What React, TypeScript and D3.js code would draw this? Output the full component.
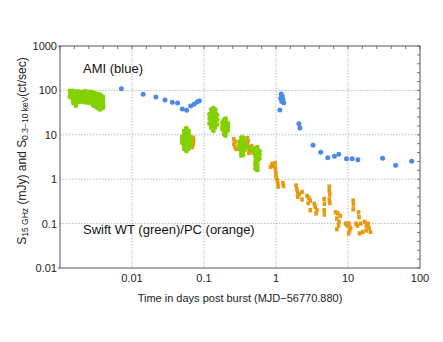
import React from "react";
import * as d3 from "d3";

// AMI 15 GHz (blue): [days, mJy]
const amiData: [number, number][] = [
  [0.0071, 109], [0.0143, 81.7], [0.0215, 71], [0.0287, 60.8], [0.0363, 53.9], [0.043, 52],
  [0.05, 38.1], [0.0574, 35.6], [0.0653, 44.6], [0.0728, 48.6], [0.0802, 54.8], [0.0863, 58.6],
  [1.13, 36.2], [1.16, 66.4], [1.18, 83], [1.2, 56], [1.22, 75], [1.25, 62], [1.28, 53],
  [2.08, 17.8], [2.15, 14.2], [3.27, 5.8], [4.18, 4.03], [5.23, 3.05], [6.49, 3.27], [7.45, 3.63],
  [9.53, 2.9], [11.4, 2.9], [13.7, 2.75], [30.2, 2.96], [45.9, 2.06], [76.6, 2.53],
];

// Swift XRT WT (green): [days, ct/s]
const wtEarly: [number, number][] = [
  [0.00138, 97], [0.00139, 84], [0.00137, 72],
  [0.00151, 98], [0.00152, 85], [0.00153, 70], [0.00151, 61], [0.00153, 52],
  [0.00166, 95], [0.00168, 82], [0.00167, 72], [0.00166, 60], [0.00168, 51], [0.00166, 45],
  [0.00175, 90], [0.00176, 77], [0.00174, 66], [0.00175, 57],
  [0.00184, 94], [0.00185, 84], [0.00183, 70], [0.00184, 62], [0.00186, 55],
  [0.00193, 88], [0.00194, 76], [0.00193, 66], [0.00194, 58],
  [0.00203, 92], [0.00204, 82], [0.00202, 71], [0.00203, 61], [0.00205, 56],
  [0.00213, 88], [0.00214, 76], [0.00212, 66], [0.00213, 58],
  [0.00223, 96], [0.00224, 84], [0.00222, 70], [0.00224, 61], [0.00223, 54],
  [0.00235, 88], [0.00234, 76], [0.00236, 65], [0.00235, 57],
  [0.00245, 93], [0.00246, 82], [0.00244, 72], [0.00246, 60], [0.00245, 53],
  [0.00258, 88], [0.00257, 76], [0.00259, 66], [0.00258, 56],
  [0.0027, 92], [0.00271, 84], [0.0027, 70], [0.00269, 62], [0.00271, 52],
  [0.00284, 85], [0.00283, 73], [0.00285, 64], [0.00284, 55], [0.00283, 48],
  [0.00297, 88], [0.00298, 78], [0.00296, 67], [0.00298, 58], [0.00297, 50], [0.00296, 45],
  [0.00312, 80], [0.00313, 69], [0.00311, 60], [0.00312, 51], [0.00313, 44],
  [0.00328, 83], [0.00327, 72], [0.00329, 61], [0.00328, 52], [0.00327, 45], [0.00329, 40],
  [0.00344, 76], [0.00345, 65], [0.00343, 56], [0.00344, 48], [0.00345, 41],
  [0.0036, 80], [0.00361, 68], [0.00359, 58], [0.0036, 50], [0.00362, 43], [0.0036, 37],
  [0.00378, 74], [0.00377, 64], [0.00379, 55], [0.00378, 47], [0.00377, 40],
  [0.00395, 71], [0.00397, 61], [0.00396, 52], [0.00398, 45], [0.00396, 40],
];
const wtOrbit1: [number, number][] = [
  [0.0497, 9.0], [0.0499, 7.6], [0.0498, 6.6],
  [0.053, 12.2], [0.0531, 10.4], [0.0529, 9.0], [0.053, 7.6], [0.0531, 6.6], [0.053, 5.6], [0.0529, 4.8],
  [0.0569, 14.2], [0.057, 12.2], [0.0568, 10.4], [0.0569, 9.0], [0.057, 7.6], [0.0568, 6.6], [0.0569, 5.6], [0.057, 4.8], [0.0569, 4.3],
  [0.061, 12.2], [0.0611, 10.4], [0.0609, 9.0], [0.061, 7.6], [0.0611, 6.6], [0.061, 5.6], [0.0609, 4.8],
  [0.065, 9.0], [0.0651, 7.6], [0.0649, 6.6], [0.065, 5.6],
];
const wtOrbit2: [number, number][] = [
  [0.119, 29], [0.12, 23], [0.119, 18],
  [0.126, 37], [0.127, 31], [0.126, 27], [0.125, 23], [0.126, 20], [0.127, 17], [0.126, 14.5],
  [0.134, 40], [0.135, 34], [0.133, 29], [0.134, 25], [0.135, 21.6], [0.134, 18.4], [0.133, 15.8], [0.134, 13.6], [0.135, 12.2],
  [0.143, 37], [0.144, 31], [0.142, 27], [0.143, 23], [0.144, 20], [0.143, 17], [0.142, 14.5],
  [0.152, 28], [0.153, 22], [0.152, 17],
];
const wtOrbit3: [number, number][] = [
  [0.18, 19], [0.181, 16], [0.18, 13.5],
  [0.19, 22], [0.191, 19], [0.189, 16.3], [0.19, 14], [0.191, 12], [0.19, 10.3],
  [0.2, 23], [0.201, 20], [0.199, 17], [0.2, 14.6], [0.201, 12.5], [0.2, 10.8], [0.199, 9.5],
  [0.214, 18], [0.215, 15], [0.214, 12.5],
];
const wtOrbit4: [number, number][] = [
  [0.31, 7.0], [0.31, 5.8], [0.311, 4.8],
  [0.33, 8.6], [0.331, 7.3], [0.329, 6.2], [0.33, 5.3], [0.331, 4.5], [0.33, 3.9], [0.329, 3.4],
  [0.35, 8.6], [0.351, 7.3], [0.349, 6.2], [0.35, 5.3], [0.351, 4.5], [0.35, 3.9], [0.349, 3.5],
  [0.37, 7.0], [0.371, 5.8], [0.37, 4.6],
  [0.4, 5.2], [0.44, 5.0],
  [0.49, 4.6], [0.491, 3.9],
  [0.52, 5.0], [0.521, 4.3], [0.519, 3.7], [0.52, 3.2], [0.521, 2.7], [0.52, 2.3], [0.519, 2.0], [0.52, 1.7],
  [0.55, 5.3], [0.551, 4.6], [0.549, 3.9], [0.55, 3.3], [0.551, 2.8], [0.55, 2.4], [0.549, 2.1], [0.55, 1.8], [0.551, 1.6],
  [0.59, 4.3], [0.591, 3.6], [0.589, 2.9],
];

// Swift XRT PC (orange): [days, ct/s]
const pcData: [number, number][] = [
  [0.071, 8.5], [0.072, 7.3], [0.071, 6.2], [0.069, 5.3],
  [0.26, 8.0], [0.27, 7.0], [0.26, 6.1], [0.27, 5.3], [0.28, 4.8],
  [0.4, 8.4], [0.41, 7.2], [0.4, 6.2], [0.42, 5.2], [0.43, 4.4], [0.42, 3.9],
  [0.46, 5.6], [0.47, 4.6], [0.48, 4.0],
  [0.84, 1.9], [0.88, 2.2], [0.93, 2.0], [0.97, 2.3], [0.98, 1.8], [0.99, 1.5], [1.0, 1.25], [1.01, 1.08],
  [1.04, 0.95], [1.06, 0.8], [1.07, 0.68],
  [1.25, 0.82], [1.27, 0.7],
  [1.9, 0.72], [1.95, 0.6], [2.0, 0.5], [2.1, 0.46], [2.0, 0.4], [2.3, 0.52], [2.3, 0.35],
  [2.7, 0.42], [2.85, 0.38], [3.0, 0.33], [2.8, 0.29], [3.0, 0.2],
  [3.4, 0.28], [3.5, 0.24], [3.7, 0.2], [3.6, 0.17],
  [4.66, 0.36], [4.7, 0.28], [4.66, 0.2], [4.7, 0.16],
  [5.5, 0.68], [5.5, 0.55], [5.6, 0.45], [5.5, 0.35], [5.6, 0.29],
  [6.7, 0.18], [7.2, 0.17], [7.8, 0.15], [7.0, 0.13], [7.5, 0.11], [7.4, 0.09], [7.0, 0.075],
  [9.3, 0.1], [9.8, 0.09], [10.3, 0.1], [10.9, 0.08], [10.5, 0.07], [10.2, 0.06],
  [11.8, 0.33], [11.9, 0.27], [11.8, 0.21],
  [14.0, 0.18], [14.2, 0.14],
  [12.9, 0.1], [13.5, 0.09], [15, 0.1], [17, 0.11], [18, 0.09], [19, 0.1], [19.5, 0.08],
  [18, 0.07], [16, 0.065], [14.5, 0.06], [20.5, 0.065],
];

const xTicks = [0.01, 0.1, 1, 10, 100];
const xTickLabels = ["0.01", "0.1", "1", "10", "100"];
const yTicks = [0.01, 0.1, 1, 10, 100, 1000];
const yTickLabels = ["0.01", "0.1", "1", "10", "100", "1000"];
const xDomain: [number, number] = [0.001, 100];
const yDomain: [number, number] = [0.01, 1000];

const W = 443, H = 342;
const M = { left: 60, right: 420, top: 46, bottom: 268 };
const BLUE = "#4d8ae6";
const GREEN = "#84d000";
const ORANGE = "#e69a10";
const FONT = "Liberation Sans, Arial, sans-serif";

export default function App() {
  const x = d3.scaleLog().domain(xDomain).range([M.left, M.right]);
  const y = d3.scaleLog().domain(yDomain).range([M.bottom, M.top]);
  const wtAll = [...wtEarly, ...wtOrbit1, ...wtOrbit2, ...wtOrbit3, ...wtOrbit4];

  // frame ticks every 0.2 decade
  const lx = d3.range(Math.log10(xDomain[0]), Math.log10(xDomain[1]) + 1e-9, 0.2).map((v) => Math.pow(10, v));
  const ly = d3.range(Math.log10(yDomain[0]), Math.log10(yDomain[1]) + 1e-9, 0.2).map((v) => Math.pow(10, v));

  return (
    <svg width={W} height={H} style={{ position: "absolute", left: 0, top: 0, background: "#fff" }} fontFamily={FONT}>
      {/* grid */}
      {xTicks.slice(0, -1).map((t) => (
        <line key={"gx" + t} x1={x(t)} x2={x(t)} y1={M.top} y2={M.bottom} stroke="#9aaeb0" strokeWidth={0.8} strokeDasharray="1.5,1.5" />
      ))}
      {yTicks.slice(1, -1).map((t) => (
        <line key={"gy" + t} x1={M.left} x2={M.right} y1={y(t)} y2={y(t)} stroke="#9aaeb0" strokeWidth={0.8} strokeDasharray="1.5,1.5" />
      ))}
      {/* top/right frame ticks */}
      {lx.map((t, i) => (
        <line key={"tx" + i} x1={x(t)} x2={x(t)} y1={M.top} y2={M.top + 3} stroke="#555" strokeWidth={0.8} />
      ))}
      {ly.map((t, i) => (
        <line key={"ty" + i} x1={M.right} x2={M.right - 3} y1={y(t)} y2={y(t)} stroke="#555" strokeWidth={0.8} />
      ))}
      {/* data */}
      {pcData.map(([t, v], i) => (
        <rect key={"pc" + i} x={x(t) - 1.8} y={y(v) - 2.2} width={3.6} height={4.4} fill={ORANGE} />
      ))}
      {wtAll.map(([t, v], i) => (
        <circle key={"wt" + i} cx={x(t)} cy={y(v)} r={2.4} fill={GREEN} />
      ))}
      {amiData.map(([t, v], i) => (
        <circle key={"ami" + i} cx={x(t)} cy={y(v)} r={2.5} fill={BLUE} />
      ))}
      {/* frame */}
      <rect x={M.left} y={M.top} width={M.right - M.left} height={M.bottom - M.top} fill="none" stroke="#555" strokeWidth={1} />
      <line x1={M.left - 2} x2={M.left} y1={M.top} y2={M.top} stroke="#555" />
      <line x1={M.left - 2} x2={M.left} y1={M.bottom} y2={M.bottom} stroke="#555" />
      {/* tick labels */}
      {yTicks.map((t, i) => (
        <text key={"yl" + t} x={M.left - 3} y={y(t) + 4} textAnchor="end" fontSize={11} fill="#222">{yTickLabels[i]}</text>
      ))}
      {xTicks.map((t, i) => (
        <text key={"xl" + t} x={x(t)} y={M.bottom + 14} textAnchor="middle" fontSize={11} fill="#222">{xTickLabels[i]}</text>
      ))}
      {/* titles */}
      <text x={240} y={302} textAnchor="middle" fontSize={11} fill="#222">Time in days post burst (MJD−56770.880)</text>
      <text transform="translate(26,151) rotate(-90)" textAnchor="middle" fontSize={12} fill="#222">
        S<tspan fontSize={8.5} dy={2}>15 GHz</tspan><tspan dy={-2}> (mJy) and S</tspan><tspan fontSize={8.5} dy={2}>0.3−10 keV</tspan><tspan dy={-2}>(ct/sec)</tspan>
      </text>
      <text x={83} y={73} fontSize={13} fill="#111">AMI (blue)</text>
      <text x={83} y={234} fontSize={13} fill="#111">Swift WT (green)/PC (orange)</text>
    </svg>
  );
}
